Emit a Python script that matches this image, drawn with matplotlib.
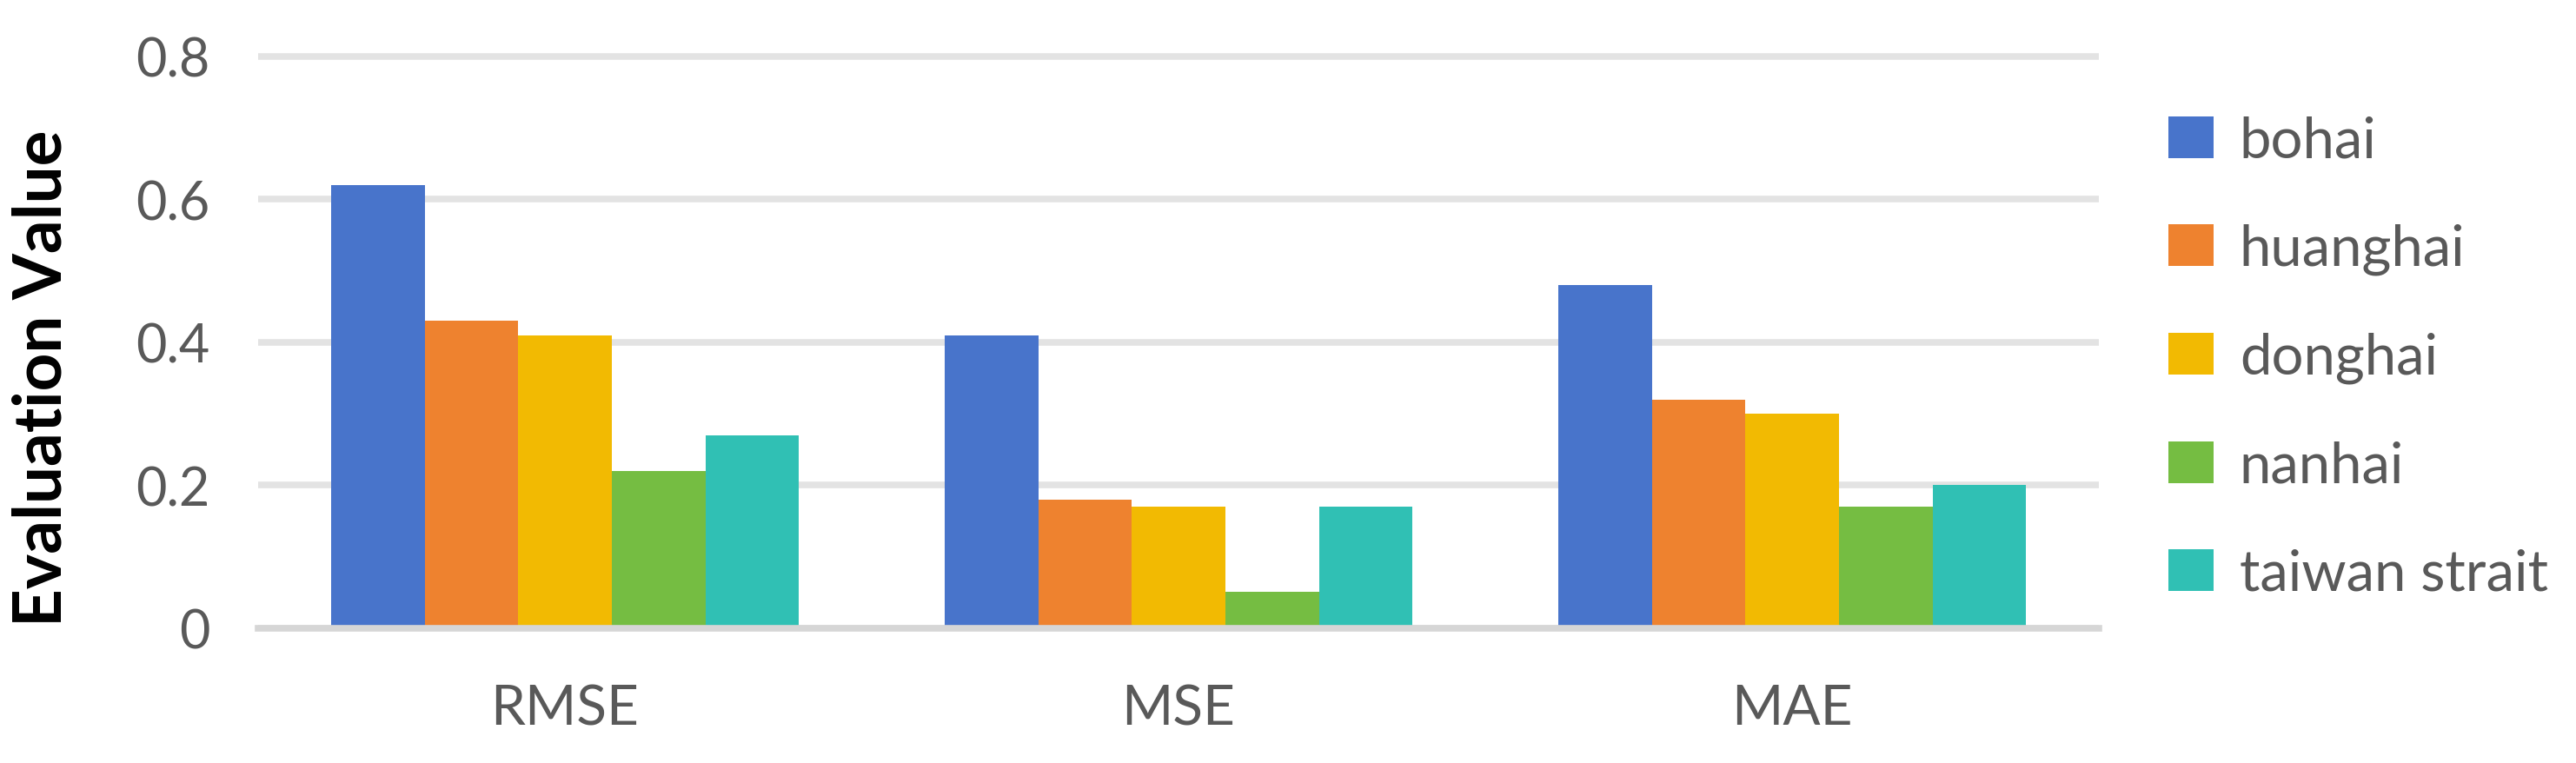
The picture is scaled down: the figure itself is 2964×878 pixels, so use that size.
import numpy as np
import matplotlib.pyplot as plt
from matplotlib.patches import Patch

plt.rcParams['font.family'] = ['Lato', 'DejaVu Sans']

# datos
metrics = ['RMSE', 'MSE', 'MAE']
regions = ['bohai', 'huanghai', 'donghai', 'nanhai', 'taiwan strait']
bohai = [0.62, 0.41, 0.48]
huanghai = [0.43, 0.18, 0.32]
donghai = [0.41, 0.17, 0.30]
nanhai = [0.22, 0.05, 0.17]
taiwan = [0.27, 0.17, 0.20]
yticks = [0, 0.2, 0.4, 0.6, 0.8]
ytick_labels = ['0', '0.2', '0.4', '0.6', '0.8']

series = [bohai, huanghai, donghai, nanhai, taiwan]
colors = ['#4874CB', '#EE822F', '#F2BA02', '#75BD42', '#30C0B4']

fig = plt.figure(figsize=(29.64, 8.79), dpi=100)
ax = fig.add_axes([0.1002, 0.1768, 0.7146, 0.7576])

x = np.arange(len(metrics))
w = 0.1525
for k, (vals, c) in enumerate(zip(series, colors)):
    ax.bar(x + (k - 2) * w, vals, width=w, color=c, zorder=3)

ax.set_xlim(-0.5, 2.5)
ax.set_ylim(0, 0.81)
ax.set_yticks(yticks)
ax.set_yticklabels(ytick_labels)
ax.set_xticks(x)
ax.set_xticklabels(metrics)

ax.grid(axis='y', color='#e3e3e3', lw=5.5, zorder=0)
for s in ['top', 'right', 'left']:
    ax.spines[s].set_visible(False)
ax.spines['bottom'].set_color('#d6d6d6')
ax.spines['bottom'].set_linewidth(5.5)
ax.spines['bottom'].set_zorder(4)

ax.tick_params(axis='both', length=0, labelsize=44, colors='#595959')
ax.tick_params(axis='x', labelsize=46, pad=46)
ax.tick_params(axis='y', pad=40)

ax.set_ylabel('Evaluation Value', fontsize=55, fontweight='bold', color='black')
ax.yaxis.set_label_coords(-0.1006, 0.433)

handles = [Patch(facecolor=c, edgecolor='none') for c in colors]
fig.legend(handles, regions, loc='center left', bbox_to_anchor=(0.822, 0.531),
           frameon=False, fontsize=47, labelcolor='#595959',
           handlelength=0.8, handleheight=0.75, handletextpad=0.45,
           labelspacing=1.0)

fig.savefig('out.png', dpi=100)
